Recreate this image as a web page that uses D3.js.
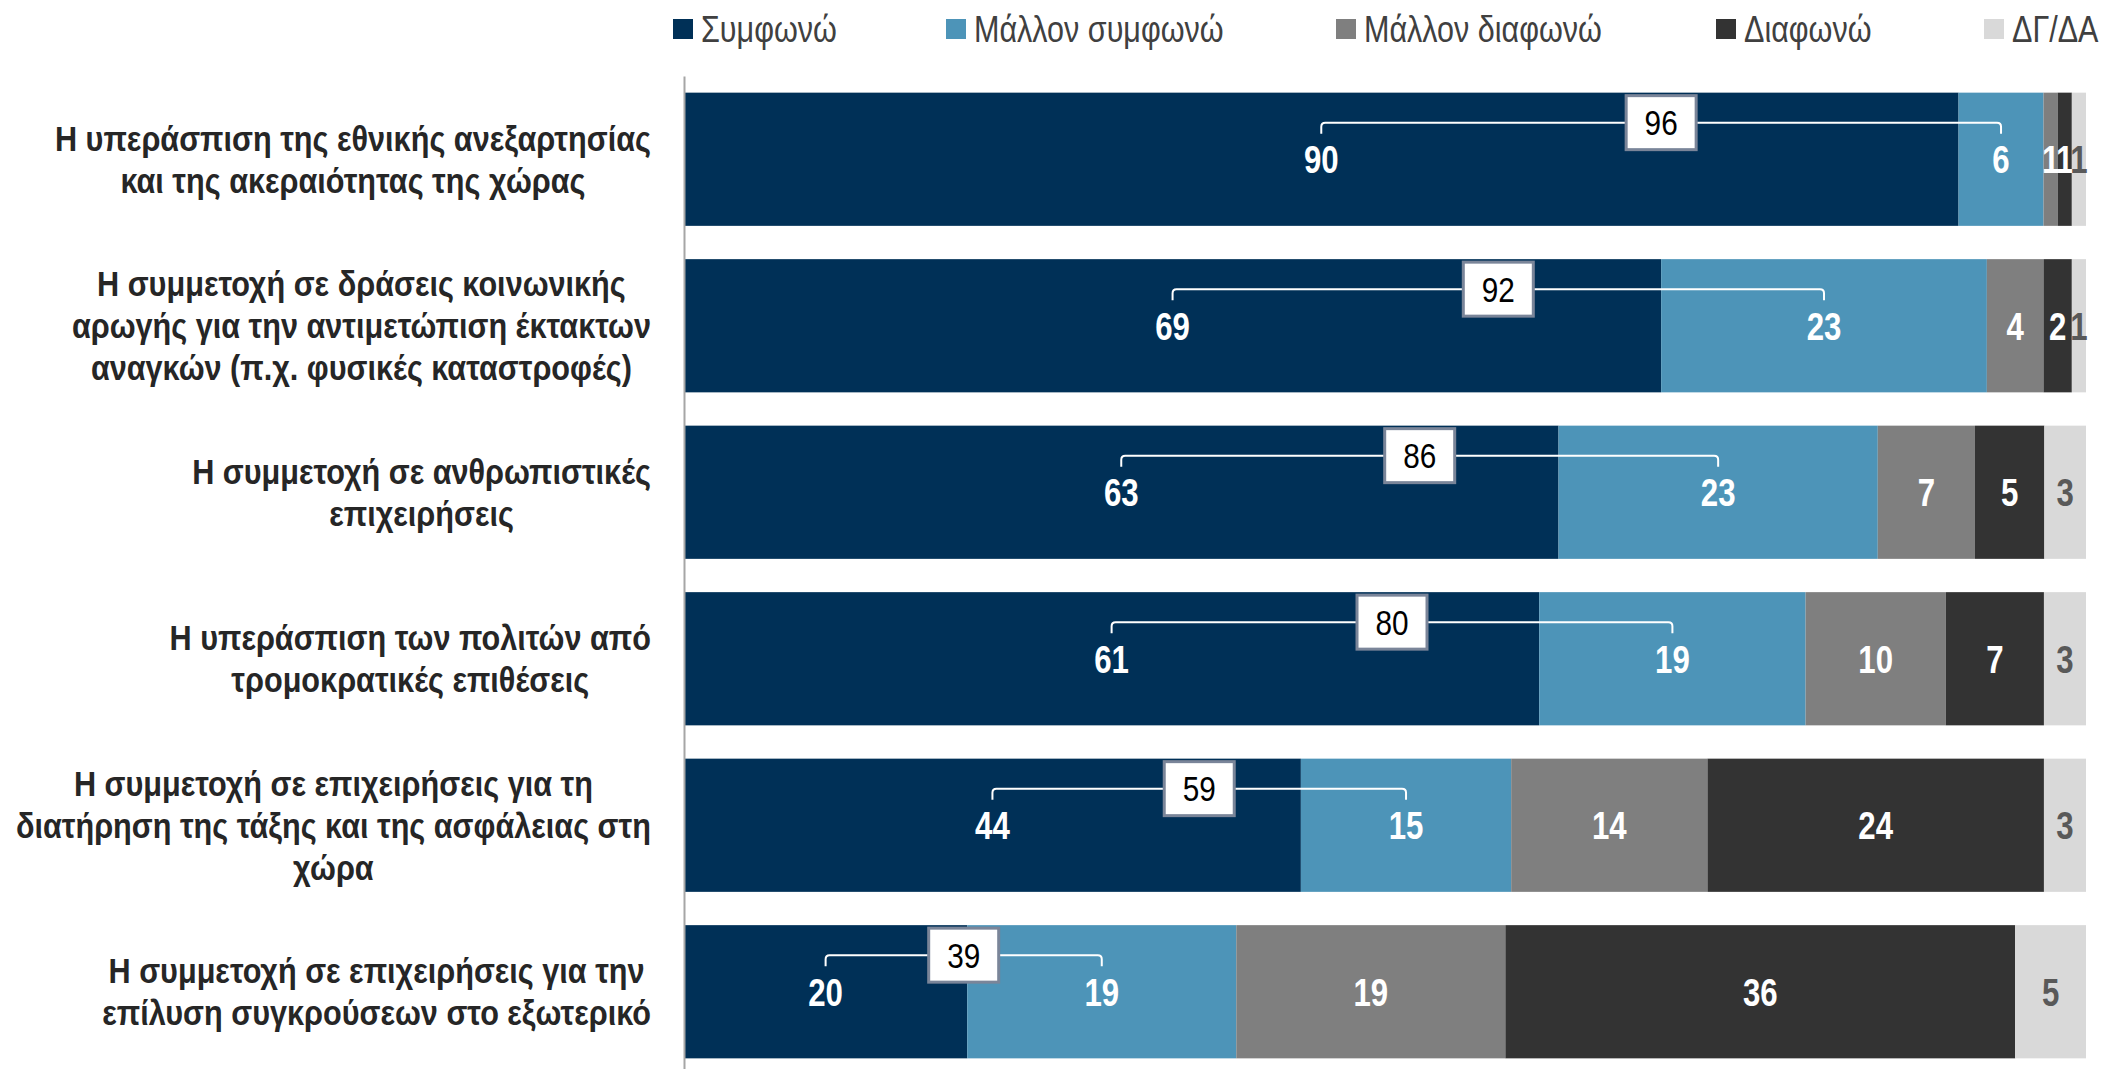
<!DOCTYPE html>
<html>
<head>
<meta charset="utf-8">
<script src="https://cdn.jsdelivr.net/npm/d3@7"></script>
<style>
  body { margin: 0; background: #fff; }
  svg { display: block; }
</style>
</head>
<body>
<svg id="chart" width="2105" height="1069"></svg>
<script>
const categories = [
  "Η υπεράσπιση της εθνικής ανεξαρτησίας\nκαι της ακεραιότητας της χώρας",
  "Η συμμετοχή σε δράσεις κοινωνικής\nαρωγής για την αντιμετώπιση έκτακτων\nαναγκών (π.χ. φυσικές καταστροφές)",
  "Η συμμετοχή σε ανθρωπιστικές\nεπιχειρήσεις",
  "Η υπεράσπιση των πολιτών από\nτρομοκρατικές επιθέσεις",
  "Η συμμετοχή σε επιχειρήσεις για τη\nδιατήρηση της τάξης και της ασφάλειας στη\nχώρα",
  "Η συμμετοχή σε επιχειρήσεις για την\nεπίλυση συγκρούσεων στο εξωτερικό"
];
const seriesNames = ["Συμφωνώ", "Μάλλον συμφωνώ", "Μάλλον διαφωνώ", "Διαφωνώ", "ΔΓ/ΔΑ"];
const agree = [90, 69, 63, 61, 44, 20];
const ratherAgree = [6, 23, 23, 19, 15, 19];
const ratherDisagree = [1, 4, 7, 10, 14, 19];
const disagree = [1, 2, 5, 7, 24, 36];
const noAnswer = [1, 1, 3, 3, 3, 5];
const totalAgree = [96, 92, 86, 80, 59, 39];

const colors = ["#003057", "#4d94b8", "#7f7f7f", "#333333", "#d9d9d9"];
const labelColors = ["#fff", "#fff", "#fff", "#fff", "#595959"];
const legendX = [673, 946, 1336, 1716, 1984];

// no narrow face installed: squeeze Liberation Sans horizontally
const font = "'Liberation Sans', Arial, sans-serif";

const rows = categories.map((c, i) => ({
  cat: c,
  [seriesNames[0]]: agree[i],
  [seriesNames[1]]: ratherAgree[i],
  [seriesNames[2]]: ratherDisagree[i],
  [seriesNames[3]]: disagree[i],
  [seriesNames[4]]: noAnswer[i],
  total: totalAgree[i]
}));

const stacked = d3.stack().keys(seriesNames).offset(d3.stackOffsetExpand)(rows);

const svg = d3.select("#chart");

const x = d3.scaleLinear().domain([0, 1]).range([684, 2086]);
const y = d3.scaleBand()
  .domain(categories)
  .range([76, 1075])
  .paddingInner(0.2)
  .paddingOuter(0.1);

const mid = s => (x(s[0]) + x(s[1])) / 2;

// bars
const layers = svg.append("g").selectAll("g")
  .data(stacked)
  .enter().append("g")
  .attr("fill", (d, i) => colors[i]);

layers.selectAll("rect")
  .data(d => d)
  .enter().append("rect")
  .attr("x", d => x(d[0]))
  .attr("y", d => y(d.data.cat))
  .attr("width", d => x(d[1]) - x(d[0]))
  .attr("height", y.bandwidth());

// axis line
svg.append("g")
  .attr("transform", `translate(${x(0)},0)`)
  .call(d3.axisLeft(y).tickSize(0).tickSizeOuter(0).tickFormat(""))
  .call(g => g.select(".domain").attr("stroke", "#a6a6a6").attr("stroke-width", 2));

// segment value labels
stacked.forEach((layer, i) => {
  svg.append("g").selectAll("text")
    .data(layer)
    .enter().append("text")
    .attr("transform", d => `translate(${mid(d)},${y(d.data.cat) + y.bandwidth() / 2}) scale(0.8,1)`)
    .attr("dy", "0.36em")
    .attr("text-anchor", "middle")
    .attr("fill", labelColors[i])
    .style("font-family", font)
    .style("font-weight", "bold")
    .style("font-size", "39px")
    .text(d => d.data[layer.key]);
});

// total agree bracket + box
const brk = svg.append("g").selectAll("g")
  .data(rows.map((r, i) => ({ r, a: stacked[0][i], b: stacked[1][i] })))
  .enter().append("g");

brk.append("path")
  .attr("fill", "none")
  .attr("stroke", "#fff")
  .attr("stroke-width", 2)
  .attr("d", d => {
    const x1 = mid(d.a);
    const x2 = mid(d.b);
    const yy = y(d.r.cat) + 30;
    return `M${x1},${yy + 11}L${x1},${yy + 4}Q${x1},${yy} ${x1 + 4},${yy}` +
      `L${x2 - 4},${yy}Q${x2},${yy} ${x2},${yy + 4}L${x2},${yy + 11}`;
  });

brk.append("rect")
  .attr("x", d => (mid(d.a) + mid(d.b)) / 2 - 35)
  .attr("y", d => y(d.r.cat) + 30 - 27)
  .attr("width", 70)
  .attr("height", 54)
  .attr("fill", "#fff")
  .attr("stroke", "#7a8599")
  .attr("stroke-width", 3);

brk.append("text")
  .attr("transform", d => `translate(${(mid(d.a) + mid(d.b)) / 2},${y(d.r.cat) + 30}) scale(0.85,1)`)
  .attr("dy", "0.36em")
  .attr("text-anchor", "middle")
  .attr("fill", "#000")
  .style("font-family", font)
  .style("font-size", "35px")
  .text(d => d.r.total);

// category labels (centered block, right edge at 651)
const labelRight = 651;
const lineH = 42;
const catScale = 0.875;
categories.forEach(cat => {
  const lines = cat.split("\n");
  const cy = y(cat) + y.bandwidth() / 2;
  const t = svg.append("text")
    .attr("text-anchor", "middle")
    .attr("fill", "#262626")
    .style("font-family", font)
    .style("font-weight", "bold")
    .style("font-size", "35px");
  const spans = lines.map((ln, k) => t.append("tspan")
    .attr("x", 0)
    .attr("y", (k - (lines.length - 1) / 2) * lineH)
    .attr("dy", "0.36em")
    .text(ln));
  const maxW = d3.max(spans, s => s.node().getComputedTextLength()) * catScale;
  t.attr("transform", `translate(${labelRight - maxW / 2},${cy}) scale(${catScale},1)`);
});

// legend
const legend = svg.append("g").selectAll("g")
  .data(seriesNames)
  .enter().append("g")
  .attr("transform", (d, i) => `translate(${legendX[i]},29)`);

legend.append("rect")
  .attr("x", 0)
  .attr("y", -10)
  .attr("width", 20)
  .attr("height", 20)
  .attr("fill", (d, i) => colors[i]);

legend.append("text")
  .attr("transform", "translate(28,0) scale(0.825,1)")
  .attr("dy", "0.36em")
  .attr("fill", "#404040")
  .style("font-family", font)
  .style("font-size", "37px")
  .text(d => d);
</script>
</body>
</html>
